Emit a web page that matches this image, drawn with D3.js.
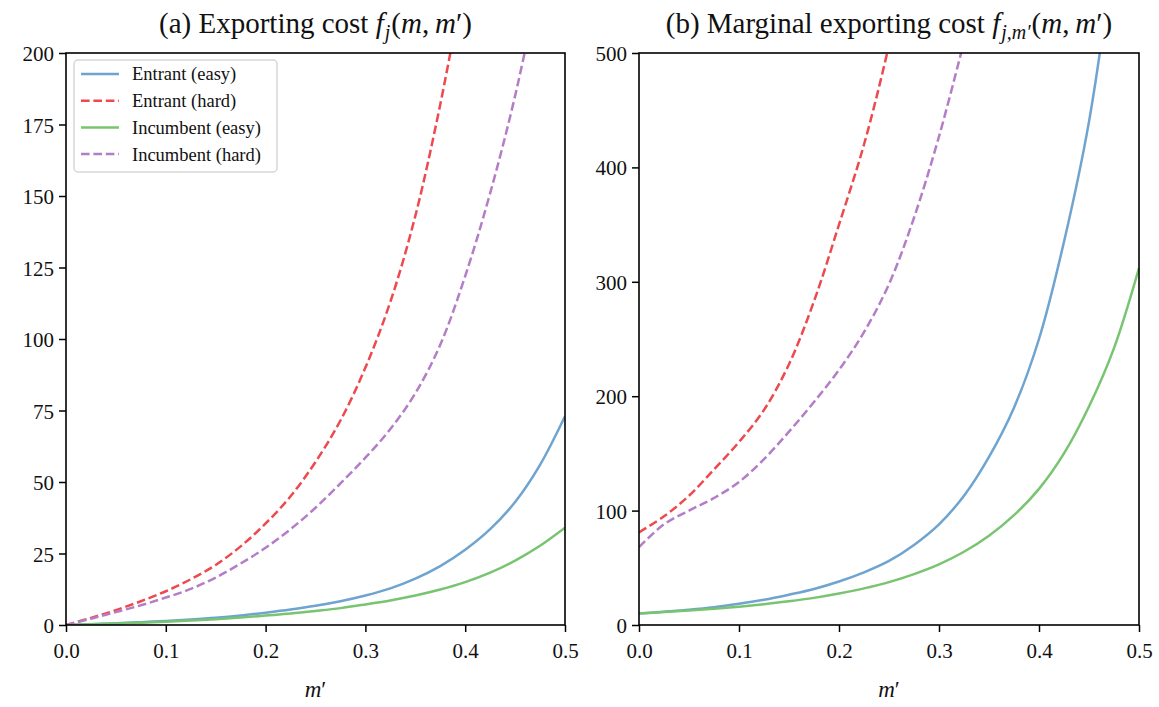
<!DOCTYPE html>
<html>
<head>
<meta charset="utf-8">
<script src="https://cdn.jsdelivr.net/npm/d3@7"></script>
<style>
  html, body { margin: 0; padding: 0; background: #fff; }
  svg { display: block; font-family: "Liberation Serif", "DejaVu Serif", serif; }
</style>
</head>
<body>
<svg id="chart" width="1159" height="707"></svg>
<script>
// Grid of m' values shared by every series
const mGrid = [0, 0.025, 0.05, 0.075, 0.1, 0.125, 0.15, 0.175, 0.2, 0.225, 0.25,
               0.275, 0.3, 0.325, 0.35, 0.375, 0.4, 0.425, 0.45, 0.475, 0.5];

// Panel (a): exporting cost f_j(m, m')
const costEntrantEasy   = [0, 0.3, 0.6, 1.0, 1.4, 1.9, 2.5, 3.3, 4.3, 5.4, 6.7, 8.3, 10.3, 12.8, 16.2, 20.6, 26.3, 33.5, 43, 56, 73];
const costEntrantHard   = [0, 2.5, 5.2, 8.3, 11.8, 16, 21, 27.5, 35.5, 45, 57, 71.5, 90, 113, 143, 182, 228];
const costIncumbentEasy = [0, 0.25, 0.5, 0.8, 1.15, 1.55, 2.0, 2.6, 3.3, 4.0, 4.9, 5.9, 7.2, 8.6, 10.3, 12.4, 15, 18.3, 22.5, 27.7, 34];
const costIncumbentHard = [0, 2.2, 4.5, 6.9, 9.6, 12.6, 16.6, 21.5, 27, 33.5, 41, 49.5, 58.5, 68.5, 81, 98, 122, 151, 185, 226];

// Panel (b): marginal exporting cost f_{j,m'}(m, m')
const margEntrantEasy   = [10, 11.6, 13.3, 15.5, 18.5, 22, 26.5, 31.5, 38, 46, 56, 70, 88, 113, 147, 190, 250, 335, 440, 590];
const margEntrantHard   = [81, 95, 113, 136, 160, 188, 228, 283, 350, 420, 507, 610];
const margIncumbentEasy = [10, 11.3, 12.6, 14.2, 16, 18.2, 20.7, 23.7, 27.5, 32, 37.5, 44.5, 53, 64, 78, 96, 119, 150, 191, 242, 312];
const margIncumbentHard = [68, 88, 100, 111, 125, 145, 169, 195, 223, 256, 298, 356, 427, 510];

const seriesNames = ["Entrant (easy)", "Entrant (hard)", "Incumbent (easy)", "Incumbent (hard)"];
const seriesColors = ["#6ea4cf", "#ec4a4f", "#78c470", "#b47ec6"];
const seriesDashed = [false, true, false, true];

const xTicks = [0, 0.1, 0.2, 0.3, 0.4, 0.5];
const yTicksA = [0, 25, 50, 75, 100, 125, 150, 175, 200];
const yTicksB = [0, 100, 200, 300, 400, 500];

const svg = d3.select("#chart");
const DASH = "8.6,3.8";

function toPoints(vals) {
  return vals.map((v, i) => [mGrid[i], v]);
}

// "f" with a subscript, followed by "(m, m′)"
function mathPart(t, sub) {
  t.append("tspan").style("font-style", "italic").text("f");
  t.append("tspan").style("font-style", "italic").style("font-size", "20px")
    .attr("dx", 1).attr("dy", 6).text(sub);
  t.append("tspan").attr("dy", -6).attr("dx", 1).text("(");
  t.append("tspan").style("font-style", "italic").text("m");
  t.append("tspan").text(",\u2009");
  t.append("tspan").style("font-style", "italic").text("m");
  t.append("tspan").text("′)");
}

function drawPanel(opts) {
  const { left, right, top, bottom, yMax, yTicks, series, id, title, legend } = opts;
  const x = d3.scaleLinear().domain([0, 0.5]).range([left, right]);
  const y = d3.scaleLinear().domain([0, yMax]).range([bottom, top]);

  svg.append("clipPath").attr("id", id)
    .append("rect").attr("x", left).attr("y", top)
    .attr("width", right - left).attr("height", bottom - top);

  const line = d3.line()
    .x(d => x(d[0])).y(d => y(d[1]))
    .curve(d3.curveCatmullRom.alpha(0.5));

  const g = svg.append("g").attr("clip-path", `url(#${id})`);
  series.forEach((vals, i) => {
    g.append("path")
      .datum(toPoints(vals))
      .attr("d", line)
      .attr("fill", "none")
      .attr("stroke", seriesColors[i])
      .attr("stroke-width", 2.5)
      .attr("stroke-dasharray", seriesDashed[i] ? DASH : null);
  });

  // frame
  svg.append("rect")
    .attr("x", left).attr("y", top)
    .attr("width", right - left).attr("height", bottom - top)
    .attr("fill", "none").attr("stroke", "#000").attr("stroke-width", 1.6);

  const xAxis = svg.append("g")
    .attr("transform", `translate(0,${bottom})`)
    .call(d3.axisBottom(x).tickValues(xTicks).tickFormat(d3.format(".1f")).tickSize(7).tickPadding(6));
  const yAxis = svg.append("g")
    .attr("transform", `translate(${left},0)`)
    .call(d3.axisLeft(y).tickValues(yTicks).tickFormat(d3.format("d")).tickSize(7).tickPadding(5));
  [xAxis, yAxis].forEach(a => {
    a.select(".domain").remove();
    a.selectAll(".tick line").attr("stroke", "#000").attr("stroke-width", 1.5);
    a.selectAll(".tick text").attr("fill", "#111").style("font-size", "21px")
      .style("font-family", "'Liberation Serif', serif");
  });
  xAxis.selectAll(".tick text").attr("dy", "0.95em");
  yAxis.selectAll(".tick text").attr("dy", "0.36em");

  // x label m'
  const xl = svg.append("text")
    .attr("x", (left + right) / 2).attr("y", 697)
    .attr("text-anchor", "middle")
    .style("font-size", "23px").attr("fill", "#111");
  xl.append("tspan").style("font-style", "italic").text("m");
  xl.append("tspan").text("′");

  // title
  const t = svg.append("text")
    .attr("x", (left + right) / 2).attr("y", 33)
    .attr("text-anchor", "middle")
    .style("font-size", "29px").attr("fill", "#111");
  title(t);

  if (legend) {
    const lg = svg.append("g");
    lg.append("rect")
      .attr("x", left + 8).attr("y", top + 7)
      .attr("width", 203).attr("height", 112)
      .attr("rx", 4).attr("fill", "#fff")
      .attr("stroke", "#d6d6d6").attr("stroke-width", 1.5);
    seriesNames.forEach((name, i) => {
      const cy = top + 21 + i * 26.7;
      lg.append("line")
        .attr("x1", left + 15).attr("x2", left + 53)
        .attr("y1", cy).attr("y2", cy)
        .attr("stroke", seriesColors[i]).attr("stroke-width", 2.5)
        .attr("stroke-dasharray", seriesDashed[i] ? DASH : null);
      lg.append("text")
        .attr("x", left + 66).attr("y", cy).attr("dy", "0.35em")
        .style("font-size", "18.5px").attr("fill", "#111")
        .text(name);
    });
  }
}

drawPanel({
  id: "clipA", left: 66, right: 565, top: 53, bottom: 625, yMax: 200, yTicks: yTicksA,
  series: [costEntrantEasy, costEntrantHard, costIncumbentEasy, costIncumbentHard],
  legend: true,
  title: t => {
    t.append("tspan").text("(a) Exporting cost ");
    mathPart(t, "j");
  }
});

drawPanel({
  id: "clipB", left: 639, right: 1139, top: 53, bottom: 625, yMax: 500, yTicks: yTicksB,
  series: [margEntrantEasy, margEntrantHard, margIncumbentEasy, margIncumbentHard],
  legend: false,
  title: t => {
    t.append("tspan").text("(b) Marginal exporting cost ");
    mathPart(t, "j,m′");
  }
});
</script>
</body>
</html>
